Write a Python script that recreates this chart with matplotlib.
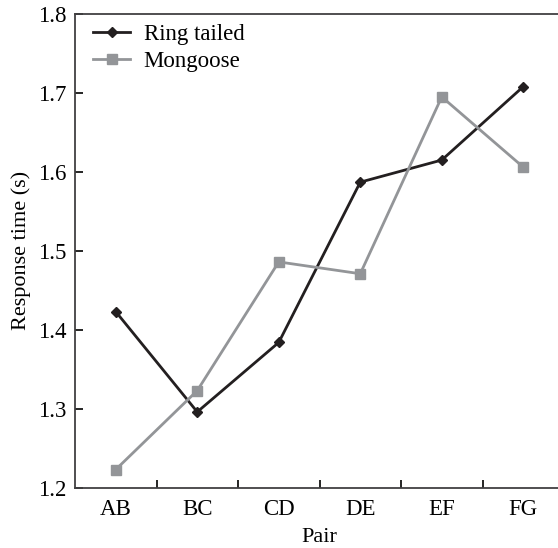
import matplotlib.pyplot as plt
import numpy as np

pairs = ['AB', 'BC', 'CD', 'DE', 'EF', 'FG']
ring_tailed = [1.423, 1.296, 1.384, 1.587, 1.615, 1.708]
mongoose = [1.223, 1.323, 1.486, 1.471, 1.695, 1.606]

plt.rcParams['font.family'] = ['Liberation Serif', 'DejaVu Serif']

fig = plt.figure(figsize=(5.58, 5.48), dpi=100)
ax = fig.add_axes([0.1344, 0.110, 0.8764, 0.8645])

x = np.arange(len(pairs))
ax.plot(x, ring_tailed, color='#231f20', lw=2.0, marker='D', ms=5,
        label='Ring tailed')
ax.plot(x, mongoose, color='#939598', lw=2.0, marker='s', ms=7,
        label='Mongoose')

ax.set_xlim(-0.5, 5.5)
ax.set_ylim(1.2, 1.8)
ax.set_yticks(np.arange(1.2, 1.81, 0.1))
ax.set_yticklabels([f'{v:.1f}' for v in np.arange(1.2, 1.81, 0.1)])
ax.set_xticks(x)
ax.set_xticklabels(pairs)
ax.set_xticks(np.arange(0.5, 5.0, 1.0), minor=True)
ax.tick_params(axis='x', which='major', length=0, pad=8, labelsize=16.5)
ax.tick_params(axis='x', which='minor', direction='in', length=6, width=1.2)
ax.tick_params(axis='y', direction='in', length=6, width=1.2, pad=6,
               labelsize=16.5)

for s in ax.spines.values():
    s.set_linewidth(1.3)
    s.set_color('#414042')
ax.spines['right'].set_visible(False)

ax.set_xlabel('Pair', fontsize=16, labelpad=6)
ax.set_ylabel('Response time (s)', fontsize=16, labelpad=5)

ax.legend(loc='upper left', bbox_to_anchor=(0.0, 1.018), frameon=False,
          fontsize=16.5, handlelength=1.6, handletextpad=0.6,
          borderaxespad=0.4, labelspacing=0.25, borderpad=0.4)

fig.savefig('out.png', dpi=100)
